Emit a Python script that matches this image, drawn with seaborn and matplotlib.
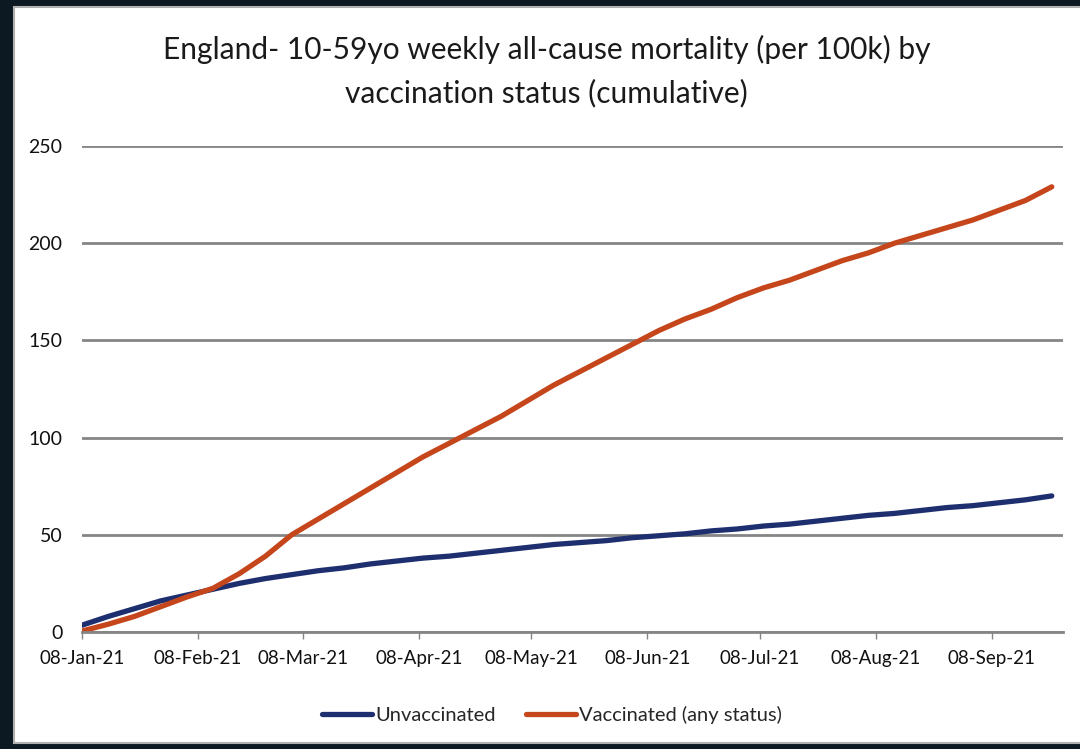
import matplotlib
matplotlib.use("Agg")
import matplotlib.pyplot as plt
import matplotlib.dates as mdates
from matplotlib.patches import Rectangle
import numpy as np
import pandas as pd
import seaborn as sns

# weekly cumulative all-cause mortality per 100k
dates = pd.date_range("2021-01-08", periods=38, freq="7D")
unvaccinated = [3.5, 8, 12, 16, 19, 22, 25, 27.5, 29.5, 31.5, 33, 35, 36.5, 38, 39,
                40.5, 42, 43.5, 45, 46, 47, 48.5, 49.5, 50.5, 52, 53, 54.5, 55.5,
                57, 58.5, 60, 61, 62.5, 64, 65, 66.5, 68, 70]
vaccinated = [0.5, 4, 8, 13, 18, 22.5, 30, 39, 50, 58, 66, 74, 82, 90, 97, 104, 111,
              119, 127, 134, 141, 148, 155, 161, 166, 172, 177, 181, 186, 191, 195,
              200, 204, 208, 212, 217, 222, 229]
series_names = ["Unvaccinated", "Vaccinated (any status)"]
month_ticks = pd.date_range("2021-01-01", periods=9, freq="MS") + pd.Timedelta(days=7)

df = pd.DataFrame({"date": dates, series_names[0]: unvaccinated, series_names[1]: vaccinated})
df = df.melt(id_vars="date", var_name="status", value_name="rate")

sns.set_theme(style="white")
plt.rcParams["font.family"] = ["Lato", "DejaVu Sans"]

fig = plt.figure(figsize=(10.8, 7.49), dpi=100, facecolor="#0c1923")
fig.patches.append(Rectangle((14 / 1080, 6 / 749), 1, 736 / 749, transform=fig.transFigure,
                             facecolor="white", edgecolor="#b0b0b0", linewidth=1.5, zorder=-5))

ax = fig.add_axes([82 / 1080, 117 / 749, (1063 - 82) / 1080, 486 / 749])
ax.set_facecolor("none")
ax.set_zorder(2)

sns.lineplot(data=df, x="date", y="rate", hue="status", ax=ax, linewidth=3.8,
             palette={series_names[0]: "#1e2f6f", series_names[1]: "#c6461c"})

ax.set_ylim(0, 250)
ax.set_yticks([0, 50, 100, 150, 200, 250])
ax.set_xlim(dates[0], dates[0] + pd.Timedelta(days=262))
ax.set_xticks(month_ticks)
ax.xaxis.set_major_formatter(mdates.DateFormatter("%d-%b-%y"))
ax.grid(axis="y", color="#858585", linewidth=2)
ax.set_axisbelow(True)
for s in ["top", "right", "left"]:
    ax.spines[s].set_visible(False)
ax.spines["bottom"].set_color("#858585")
ax.spines["bottom"].set_linewidth(2)
ax.tick_params(axis="y", length=0, pad=14, labelsize=14, labelcolor="#111111")
ax.tick_params(axis="x", length=5, width=1, color="#858585", direction="out",
               pad=8, labelsize=13.5, labelcolor="#111111", bottom=True)
ax.set_xlabel("")
ax.set_ylabel("")

fig.text(0.506, 0.905, "England- 10-59yo weekly all-cause mortality (per 100k) by\nvaccination status (cumulative)",
         ha="center", va="center", fontsize=21.5, color="#1a1a1a", linespacing=1.6)

ax.legend(loc="center", bbox_to_anchor=(0.479, -0.17), ncol=2, frameon=False,
          fontsize=14.5, handlelength=2.5, handletextpad=0.15, columnspacing=1.5)

fig.savefig("out.png", dpi=100, facecolor=fig.get_facecolor())
